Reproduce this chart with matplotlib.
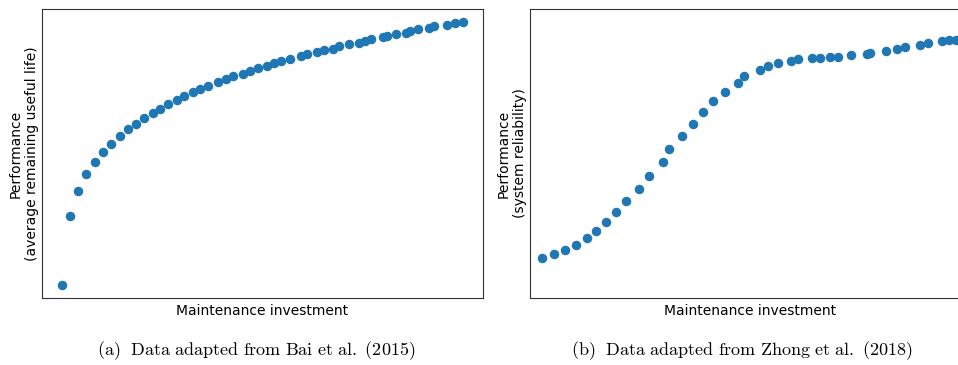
import matplotlib
matplotlib.use("Agg")
import matplotlib.pyplot as plt

plt.rcParams['mathtext.fontset'] = 'cm'

# (a) Bai et al. (2015): remaining useful life vs maintenance investment
x_a = [60, 84, 109, 133, 158, 183, 207, 233, 258, 281, 306, 332, 352, 376, 404, 426, 451, 474,
       497, 528, 550, 572, 601, 622, 647, 675, 695, 716, 742, 775, 794, 824, 846, 871, 889, 921,
       949, 969, 985, 1021, 1034, 1059, 1091, 1103, 1127, 1159, 1175, 1212, 1236, 1260]
y_a = [40, 247, 322, 371, 408, 438, 463, 486, 507, 524, 541, 556, 569, 583, 596, 606, 618, 628,
       638, 648, 658, 666, 674, 682, 690, 697, 705, 712, 718, 726, 732, 738, 744, 749, 756, 762,
       767, 773, 778, 783, 788, 792, 797, 802, 807, 811, 816, 820, 825, 830]

# (b) Zhong et al. (2018): system reliability vs maintenance investment
x_b = [36, 72, 104, 137, 171, 198, 229, 257, 289, 327, 356, 397, 417, 455, 489, 517, 549, 584,
       622, 642, 688, 712, 743, 781, 803, 846, 870, 898, 923, 961, 1008, 1018, 1066, 1098, 1122,
       1168, 1193, 1234, 1255, 1275]
y_b = [119, 131, 143, 159, 179, 201, 228, 258, 291, 328, 367, 407, 447, 486, 523, 559, 592, 620,
       645, 667, 684, 696, 707, 713, 717, 720, 721, 724, 725, 729, 733, 737, 742, 748, 754,
       761, 766, 771, 774, 776]

ylabels = ["Performance\n(average remaining useful life)", "Performance\n(system reliability)"]
captions = [r"$\mathrm{(a)\ \ Data\ adapted\ from\ Bai\ et\ al.\ (2015)}$",
            r"$\mathrm{(b)\ \ Data\ adapted\ from\ Zhong\ et\ al.\ (2018)}$"]

W, H = 958, 365
fig = plt.figure(figsize=(W / 100, H / 100), dpi=100)

lefts = [42, 530]
for i, (xs, ys) in enumerate([(x_a, y_a), (x_b, y_b)]):
    ax = fig.add_axes([lefts[i] / W, (H - 298) / H, 441 / W, 289 / H])
    ax.scatter(xs, ys, s=34, color='#1f77b4', zorder=3)
    ax.set_xlim(0, 1321)
    ax.set_ylim(0, 868)
    ax.set_xticks([])
    ax.set_yticks([])
    ax.set_xlabel("Maintenance investment", fontsize=10)
    ax.set_ylabel(ylabels[i], fontsize=10, labelpad=2)
    for sp in ax.spines.values():
        sp.set_color('#333333')

fig.text(256 / W, 1 - 351 / H, captions[0], ha='center', va='center', fontsize=13)
fig.text(742 / W, 1 - 351 / H, captions[1], ha='center', va='center', fontsize=13)

fig.savefig("out.png", dpi=100)
